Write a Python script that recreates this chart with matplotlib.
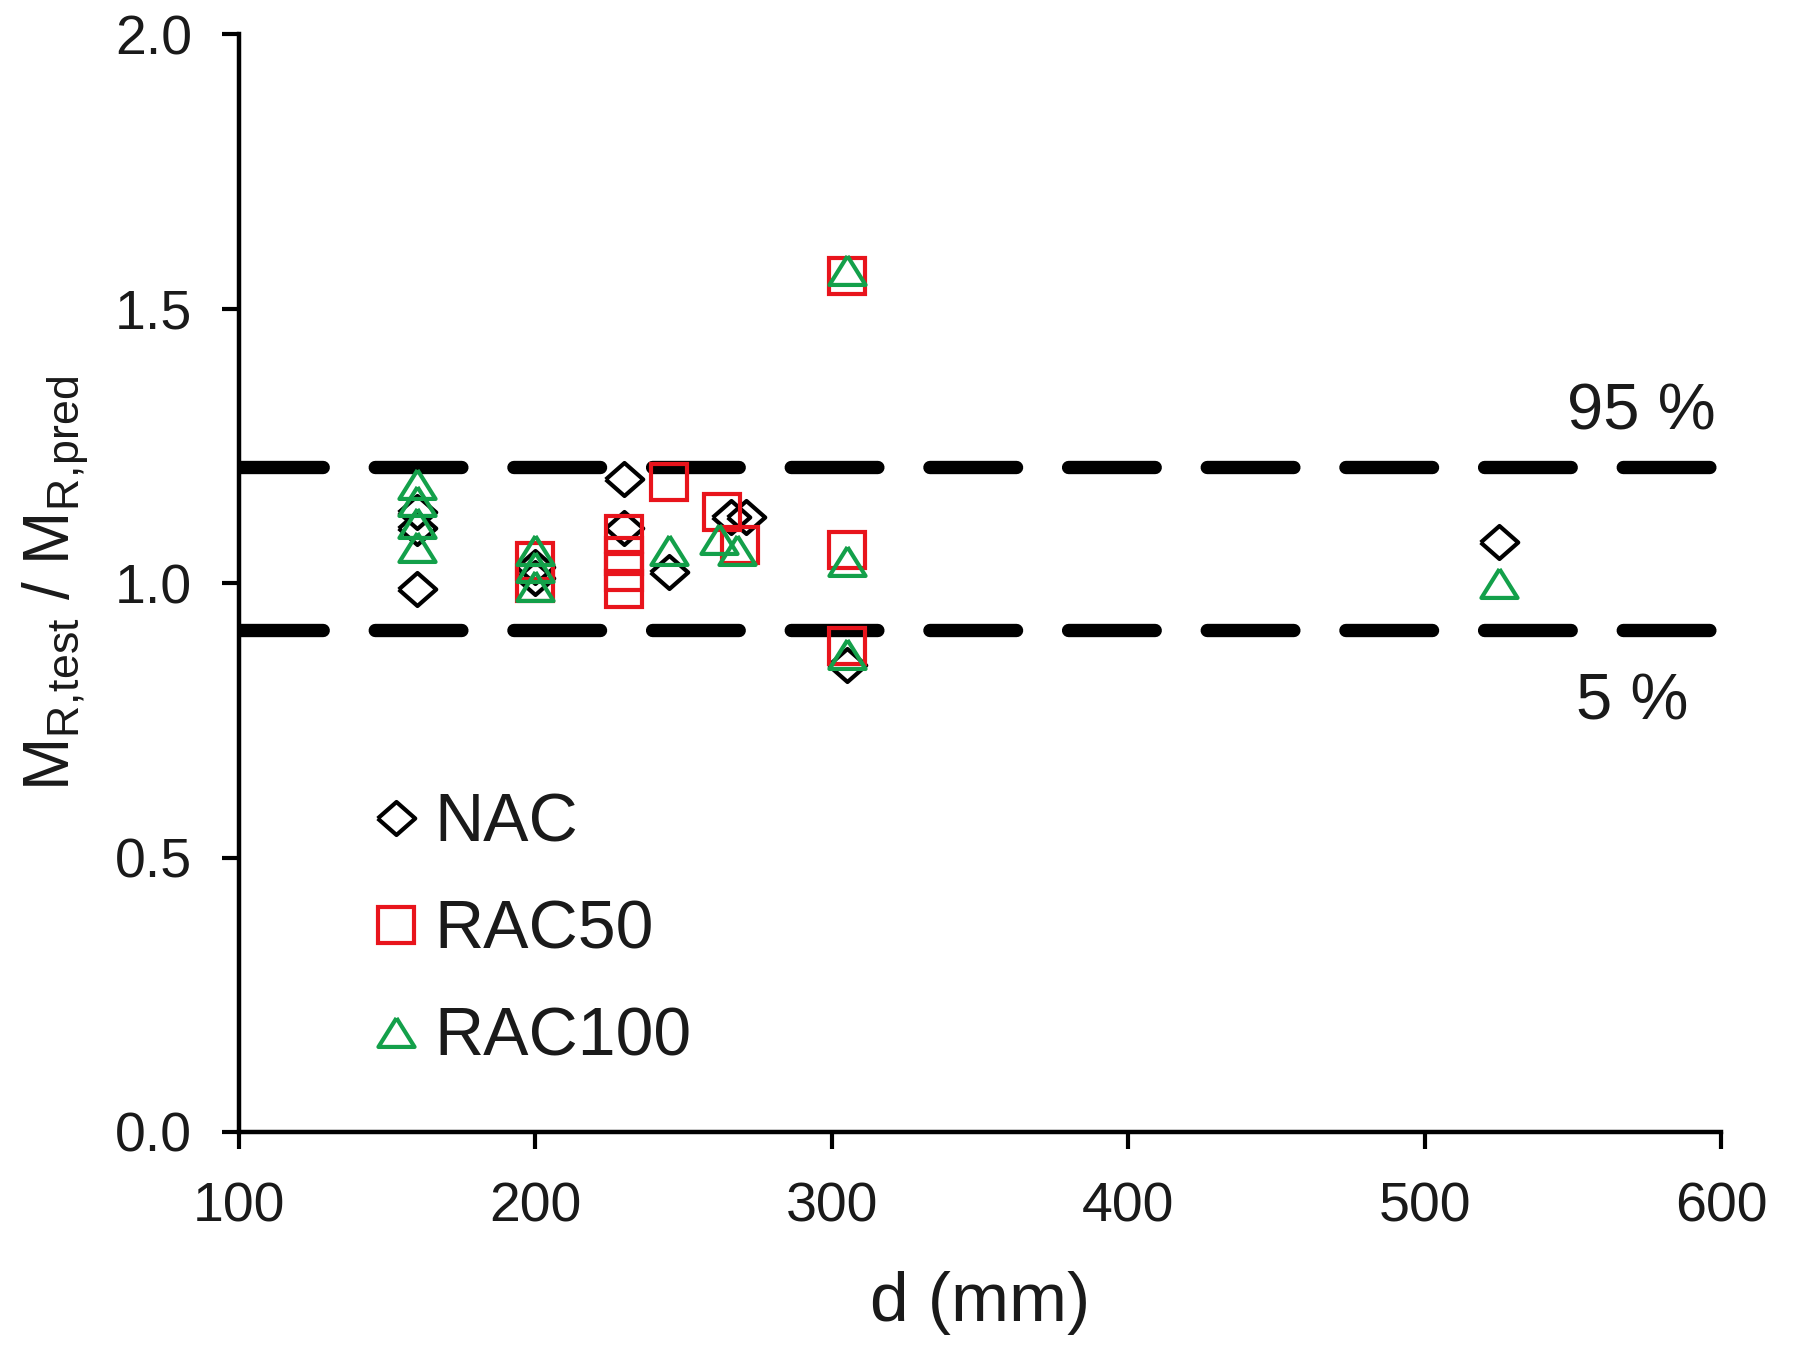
import matplotlib
matplotlib.use("Agg")
import matplotlib.pyplot as plt

plt.rcParams['font.family'] = ['Liberation Sans', 'DejaVu Sans']
plt.rcParams['mathtext.default'] = 'regular'

# Data
nac_d = [160, 160, 160, 200, 200, 230, 230, 245, 266, 271, 305, 525]
nac_r = [0.99, 1.10, 1.13, 1.03, 1.01, 1.19, 1.10, 1.02, 1.12, 1.12, 0.85, 1.075]

rac50_d = [200, 200, 230, 230, 230, 230, 245, 263, 269, 305, 305, 305]
rac50_r = [1.04, 1.00, 1.09, 1.05, 1.02, 0.99, 1.185, 1.13, 1.07, 1.56, 1.06, 0.885]

rac100_d = [160, 160, 160, 160, 200, 200, 200, 245, 262, 268, 305, 305, 305, 525]
rac100_r = [1.18, 1.15, 1.11, 1.065, 1.06, 1.03, 0.995, 1.06, 1.08, 1.06, 1.57, 1.04, 0.87, 1.00]

p95 = 1.211
p05 = 0.915

fig = plt.figure(figsize=(17.93, 13.45), dpi=100)
ax = fig.add_axes([0.1333, 0.1584, 0.8267, 0.8161])

lw_d = 9.6
dash = (0.22, (6.5, 3.9))
ax.axhline(p95, color='black', lw=lw_d, ls=dash, dash_capstyle='round', zorder=1)
ax.axhline(p05, color='black', lw=lw_d, ls=dash, dash_capstyle='round', zorder=1)

diamond = [(-1, 0), (0, 0.88), (1, 0), (0, -0.88), (-1, 0)]
triangle = [(0, 0.8), (-1, -0.8), (1, -0.8), (0, 0.8)]
mew = 3.0
ax.plot(nac_d, nac_r, ls='none', marker=diamond, ms=27, mfc='none', mec='black', mew=mew, label='NAC', zorder=3)
ax.plot(rac50_d, rac50_r, ls='none', marker='s', ms=25.5, mfc='none', mec='#e8141c', mew=mew, label='RAC50', zorder=3)
ax.plot(rac100_d, rac100_r, ls='none', marker=triangle, ms=26, mfc='none', mec='#13a04a', mew=mew, label='RAC100', zorder=3)

ax.text(0.996, 1.31, '95 %', transform=ax.get_yaxis_transform(), ha='right', va='center', fontsize=47, color='#1a1a1a')
ax.text(0.978, 0.782, '5 %', transform=ax.get_yaxis_transform(), ha='right', va='center', fontsize=47, color='#1a1a1a')

ax.set_xlim(100, 600)
ax.set_ylim(0, 2.0)
ax.set_xticks([100, 200, 300, 400, 500, 600])
ax.set_yticks([0.0, 0.5, 1.0, 1.5, 2.0])
ax.set_yticklabels(['0.0', '0.5', '1.0', '1.5', '2.0'])
ax.tick_params(axis='both', direction='out', length=12, width=3, labelsize=40, colors='black', labelcolor='#1a1a1a')
ax.tick_params(axis='x', pad=24)
ax.tick_params(axis='y', pad=22)
for s in ['top', 'right']:
    ax.spines[s].set_visible(False)
for s in ['left', 'bottom']:
    ax.spines[s].set_linewidth(3.2)

ax.set_xlabel('d (mm)', fontsize=50, labelpad=27, color='#1a1a1a')
ax.set_ylabel(r'M$_{R,\!test}$ / M$_{R,\!pred}$', fontsize=46, labelpad=17, color='#1a1a1a')

leg = ax.legend(loc='upper left', bbox_to_anchor=(0.083, 0.31), frameon=False, fontsize=49,
                handletextpad=0.06, labelspacing=0.63, borderaxespad=0, borderpad=0, handlelength=1.0)
for t in leg.get_texts():
    t.set_color('#1a1a1a')

fig.savefig('out.png', dpi=100)
